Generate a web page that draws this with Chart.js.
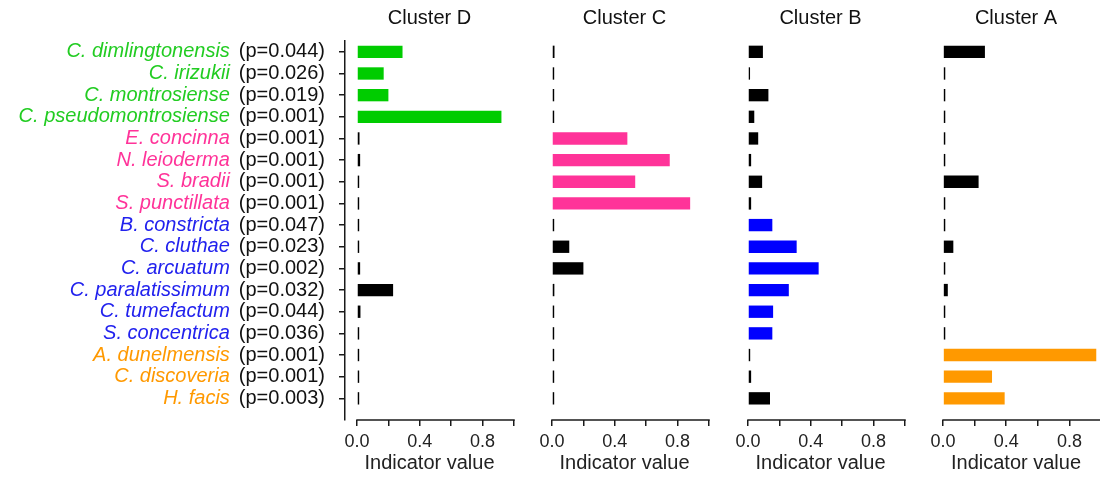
<!DOCTYPE html>
<html>
<head>
<meta charset="utf-8">
<script src="https://cdn.jsdelivr.net/npm/chart.js@4"></script>
<style>
  body { margin: 0; background: #fff; overflow: hidden; }
  #wrap { position: relative; width: 1100px; height: 477px; overflow: hidden; }
  canvas { position: absolute; top: 0; }
</style>
</head>
<body>
<div id="wrap">
  <canvas id="chartD" width="530" height="477" style="left:0px"></canvas>
  <canvas id="chartC" width="195" height="477" style="left:530px"></canvas>
  <canvas id="chartB" width="195" height="477" style="left:725px"></canvas>
  <canvas id="chartA" width="186" height="477" style="left:920px"></canvas>
</div>
<script>
// Dados
const species = [
  'C. dimlingtonensis', 'C. irizukii', 'C. montrosiense', 'C. pseudomontrosiense',
  'E. concinna', 'N. leioderma', 'S. bradii', 'S. punctillata',
  'B. constricta', 'C. cluthae', 'C. arcuatum', 'C. paralatissimum', 'C. tumefactum', 'S. concentrica',
  'A. dunelmensis', 'C. discoveria', 'H. facis'
];
const pValues = [0.044, 0.026, 0.019, 0.001, 0.001, 0.001, 0.001, 0.001,
                 0.047, 0.023, 0.002, 0.032, 0.044, 0.036, 0.001, 0.001, 0.003];
const speciesCluster = ['D', 'D', 'D', 'D', 'C', 'C', 'C', 'C',
                        'B', 'B', 'B', 'B', 'B', 'B', 'A', 'A', 'A'];

const clusters = ['D', 'C', 'B', 'A'];
const valuesD = [0.29, 0.17, 0.20, 0.92, 0.016, 0.02, 0.014, 0.014,
                 0.014, 0.014, 0.02, 0.23, 0.022, 0.014, 0.014, 0.014, 0.014];
const valuesC = [0.016, 0.014, 0.014, 0.014, 0.48, 0.75, 0.53, 0.88,
                 0.014, 0.11, 0.20, 0.015, 0.014, 0.014, 0.014, 0.014, 0.014];
const valuesB = [0.095, 0.013, 0.13, 0.04, 0.065, 0.02, 0.09, 0.02,
                 0.155, 0.31, 0.45, 0.26, 0.16, 0.155, 0.014, 0.02, 0.14];
const valuesA = [0.265, 0.014, 0.014, 0.014, 0.014, 0.014, 0.225, 0.014,
                 0.014, 0.065, 0.014, 0.03, 0.014, 0.014, 0.97, 0.31, 0.39];

const xTicks = [0, 0.2, 0.4, 0.6, 0.8, 1.0];
const xTickLabels = ['0.0', '', '0.4', '', '0.8', ''];

const clusterColors = { D: '#00cc00', C: '#ff3399', B: '#0000ff', A: '#ff9900' };
const labelColors = { D: '#22cc22', C: '#ff3399', B: '#2222ee', A: '#ff9900' };
const FONT = "'Liberation Sans', Arial, sans-serif";
const AXIS = '#1a1a1a';

// eixo x só de 0 a 1, como no R
const xAxisLine = {
  id: 'xAxisLine',
  afterDraw(chart) {
    const x = chart.scales.x, ctx = chart.ctx, y = chart.chartArea.bottom;
    ctx.save();
    ctx.strokeStyle = AXIS;
    ctx.lineWidth = 1.5;
    ctx.beginPath();
    ctx.moveTo(x.getPixelForValue(0) - 0.75, y);
    ctx.lineTo(x.getPixelForValue(1) + 0.75, y);
    ctx.stroke();
    ctx.restore();
  }
};

// nomes das espécies em itálico, antes do p-valor
const speciesNames = {
  id: 'speciesNames',
  afterDraw(chart) {
    const ys = chart.scales.y, ctx = chart.ctx;
    const right = ys.right - 6 - 14;
    ctx.save();
    species.forEach((name, i) => {
      const py = ys.getPixelForValue(i);
      ctx.font = '20px ' + FONT;
      const w = ctx.measureText(`(p=${pValues[i].toFixed(3)})`).width;
      ctx.font = 'italic 20px ' + FONT;
      ctx.fillStyle = labelColors[speciesCluster[i]];
      ctx.textAlign = 'right';
      ctx.textBaseline = 'middle';
      ctx.fillText(name, right - w - 9, py);
    });
    ctx.restore();
  }
};

function makePanel(canvasId, cluster, values, pad, withLabels) {
  const ctx = document.getElementById(canvasId).getContext('2d');
  return new Chart(ctx, {
    type: 'bar',
    data: {
      datasets: [{
        data: values.map((v, i) => ({ x: v, y: i })),
        backgroundColor: values.map((v, i) => speciesCluster[i] === cluster ? clusterColors[cluster] : '#000'),
        barPercentage: 0.57,
        categoryPercentage: 1
      }]
    },
    options: {
      indexAxis: 'y',
      responsive: false,
      animation: false,
      layout: { padding: { left: pad.left, right: pad.right, top: 0, bottom: 0 } },
      scales: {
        x: {
          type: 'linear',
          min: -0.0764,
          max: 1.0,
          afterBuildTicks: s => { s.ticks = xTicks.map(v => ({ value: v })); },
          afterFit: s => { s.height = 57; },
          ticks: {
            autoSkip: false,
            maxRotation: 0,
            padding: 5,
            color: '#222',
            font: { family: FONT, size: 18 },
            callback: (v, i) => xTickLabels[i]
          },
          grid: { display: true, drawOnChartArea: false, drawTicks: true, tickLength: 6, color: AXIS, lineWidth: 1.5 },
          border: { display: false },
          title: {
            display: true,
            text: 'Indicator value',
            color: '#222',
            font: { family: FONT, size: 20 },
            padding: { top: 0, bottom: 2 }
          }
        },
        y: {
          type: 'linear',
          reverse: true,
          offset: false,
          min: -0.5,
          max: 17,
          display: withLabels,
          afterBuildTicks: s => { s.ticks = species.map((n, i) => ({ value: i })); },
          afterFit: s => { if (withLabels) s.width = 345; },
          ticks: {
            autoSkip: false,
            padding: 14,
            color: '#111',
            font: { family: FONT, size: 20 },
            callback: v => `(p=${pValues[v].toFixed(3)})`
          },
          grid: { display: true, offset: false, drawOnChartArea: false, drawTicks: true, tickLength: 6, color: AXIS, lineWidth: 1.5 },
          border: { display: true, color: AXIS, width: 1.5 }
        }
      },
      plugins: {
        legend: { display: false },
        tooltip: { enabled: false },
        title: {
          display: true,
          fullSize: false,
          text: 'Cluster ' + cluster,
          color: '#111',
          font: { family: FONT, size: 20, weight: 'normal' },
          padding: { top: 6, bottom: 11 }
        }
      }
    },
    plugins: withLabels ? [xAxisLine, speciesNames] : [xAxisLine]
  });
}

makePanel('chartD', 'D', valuesD, { left: 0, right: 16 }, true);
makePanel('chartC', 'C', valuesC, { left: 10, right: 16 }, false);
makePanel('chartB', 'B', valuesB, { left: 11, right: 15 }, false);
makePanel('chartA', 'A', valuesA, { left: 11, right: 0 }, false);
</script>
</body>
</html>
